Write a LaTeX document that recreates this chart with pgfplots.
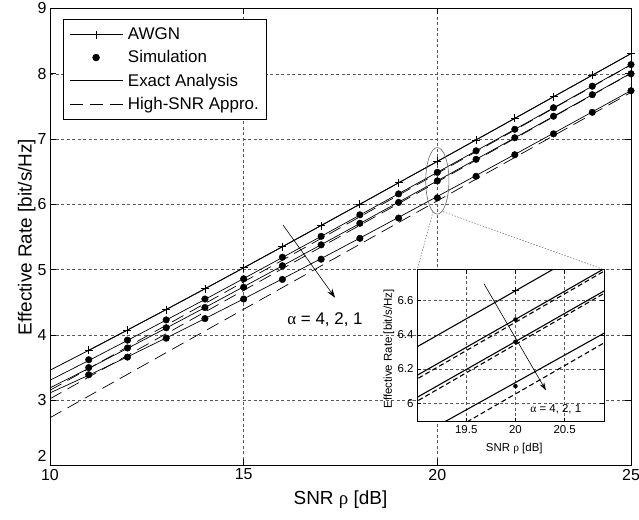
\documentclass[border=0pt]{standalone}
\usepackage{fontspec}
\setmainfont{Liberation Sans}
\newfontfamily\grk{Liberation Serif}
\usepackage{pgfplots}
\pgfplotsset{compat=1.18}
\usepackage{pgfplotstable}
\usetikzlibrary{arrows.meta}

% effective rate vs SNR; e = exact analysis, s = simulation, for alpha = 4, 2, 1
\pgfplotstableread{
x  awgn  e4    e2    e1    s4   s2   s1
10 3.459 3.306 3.189 3.112 nan  nan  nan
11 3.764 3.608 3.488 3.383 3.62 3.50 3.39
12 4.075 3.916 3.794 3.664 3.92 3.80 3.66
13 4.389 4.228 4.105 3.954 4.23 4.11 3.95
14 4.707 4.544 4.419 4.250 4.55 4.42 4.25
15 5.028 4.864 4.738 4.552 4.86 4.73 4.55
16 5.351 5.186 5.059 4.859 5.19 5.06 4.85
17 5.676 5.510 5.382 5.169 5.51 5.38 5.16
18 6.002 5.836 5.707 5.483 5.84 5.71 5.48
19 6.330 6.163 6.034 5.801 6.16 6.03 5.79
20 6.658 6.491 6.361 6.121 6.49 6.36 6.10
21 6.987 6.820 6.690 6.442 6.82 6.69 6.43
22 7.317 7.149 7.019 6.765 7.15 7.02 6.76
23 7.648 7.479 7.349 7.090 7.48 7.35 7.08
24 7.978 7.810 7.679 7.416 7.81 7.68 7.41
25 8.309 8.140 8.010 7.743 8.14 8.00 7.74
}\rates

\pgfplotsset{
  gridd/.style={grid=major, major grid style={black!65, line width=0.5bp, dash pattern=on 3bp off 2.5bp}},
  hsnr/.style={black, line width=0.7bp, dash pattern=on 13bp off 7bp},
}

\begin{document}
\begin{tikzpicture}
\begin{axis}[
  at={(50bp,54.5bp)}, anchor=south west,
  width=581bp, height=457bp, scale only axis,
  xmin=10, xmax=25, ymin=2, ymax=9,
  xtick={10,15,20,25}, ytick={2,...,9},
  yticklabels={\raisebox{4bp}[0pt][0pt]{2},3,4,5,6,7,8,9},
  gridd,
  axis line style={line width=0.8bp},
  every tick/.style={black, line width=0.6bp},
  major tick length=6bp,
  tick label style={font=\fontsize{16}{19}\selectfont},
  /pgf/number format/assume math mode=true,
  xlabel={SNR {\grk ρ} [dB]},
  ylabel={Effective Rate [bit/s/Hz]},
  label style={font=\fontsize{19}{22}\selectfont},
  xlabel style={at={(axis description cs:0.5,-0.0755)}, anchor=center},
  ylabel style={at={(axis description cs:-0.04,0.5)}, anchor=center},
  legend style={at={(0.022,0.976)}, anchor=north west, draw=black,
    line width=0.8bp, font=\fontsize{17}{20}\selectfont, row sep=5.5bp,
    inner xsep=6bp, inner ysep=6bp,
    /tikz/every odd column/.append style={column sep=3bp}},
  legend cell align=left,
  legend image code/.code={\draw[mark repeat=2,mark phase=2,#1]
    plot coordinates {(0bp,0bp) (26.5bp,0bp) (53bp,0bp)};},
]
\addplot[black, line width=0.8bp, mark=+, mark size=4bp,
  mark options={line width=0.8bp}, restrict x to domain=11:25]
  table[x=x,y=awgn]{\rates};
\addlegendentry{AWGN}
\addplot[only marks, mark=*, mark size=3.3bp, black] table[x=x,y=s4]{\rates};
\addlegendentry{Simulation}
\addplot[black, line width=0.7bp] table[x=x,y=e4]{\rates};
\addlegendentry{Exact Analysis}
\addplot[hsnr] coordinates {(10,3.152) (25,8.135)};
\addlegendentry{High-SNR Appro.}

\addplot[forget plot, black, line width=0.8bp] table[x=x,y=awgn]{\rates};
\addplot[forget plot, only marks, mark=*, mark size=3.3bp, black] table[x=x,y=s2]{\rates};
\addplot[forget plot, only marks, mark=*, mark size=3.3bp, black] table[x=x,y=s1]{\rates};
\addplot[forget plot, black, line width=0.7bp] table[x=x,y=e2]{\rates};
\addplot[forget plot, black, line width=0.7bp] table[x=x,y=e1]{\rates};
\addplot[forget plot, hsnr] coordinates {(10,3.022) (25,8.005)};
\addplot[forget plot, hsnr] coordinates {(10,2.732) (25,7.715)};

\draw[black!60, line width=0.6bp] (axis cs:20,6.36) ellipse [x radius=11.6bp, y radius=33.3bp];
\draw[black!60, line width=0.5bp, dash pattern=on 1.5bp off 1.5bp]
  (axis cs:19.89,5.887) -- (axis cs:19.48,5.0)
  (axis cs:20.15,5.887) -- (axis cs:24.30,5.0);
\draw[-{Stealth[length=9bp,width=6bp]}, line width=0.6bp]
  (axis cs:16.02,5.68) -- (axis cs:17.36,4.57);
\node[font=\fontsize{17}{20}\selectfont] at (axis cs:17.1,4.23) {{\grk α} = 4, 2, 1};
\end{axis}

% zoomed inset around 20 dB
\begin{axis}[
  at={(417bp,98bp)}, anchor=south west,
  width=187bp, height=152bp, scale only axis,
  xmin=19, xmax=20.9, ymin=5.89, ymax=6.78,
  xtick={19.5,20,20.5}, ytick={6,6.2,6.4,6.6},
  axis background/.style={fill=white},
  gridd,
  axis line style={line width=1bp},
  every tick/.style={black, line width=0.6bp},
  major tick length=4bp,
  tick label style={font=\fontsize{11.5}{13}\selectfont},
  /pgf/number format/assume math mode=true,
  xlabel={SNR {\grk ρ} [dB]},
  ylabel={Effective Rate [bit/s/Hz]},
  label style={font=\fontsize{11.5}{13}\selectfont},
  xlabel style={at={(axis description cs:0.52,-0.178)}, anchor=center},
  ylabel style={at={(axis description cs:-0.15,0.48)}, anchor=center},
]
\addplot[black, line width=1.1bp] table[x=x,y=awgn]{\rates};
\addplot[black, line width=1.1bp] table[x=x,y=e4]{\rates};
\addplot[black, line width=1.1bp] table[x=x,y=e2]{\rates};
\addplot[black, line width=1.1bp] table[x=x,y=e1]{\rates};
\addplot[black, line width=1.1bp, dash pattern=on 5bp off 3bp] coordinates {(10,3.152) (25,8.135)};
\addplot[black, line width=1.1bp, dash pattern=on 5bp off 3bp] coordinates {(10,3.022) (25,8.005)};
\addplot[black, line width=1.1bp, dash pattern=on 5bp off 3bp] coordinates {(10,2.732) (25,7.715)};
\addplot[only marks, mark=+, mark size=3.5bp, mark options={line width=1bp}, black] coordinates {(20,6.658)};
\addplot[only marks, mark=*, mark size=2bp, black] coordinates {(20,6.49) (20,6.36) (20,6.10)};
\draw[-{Stealth[length=8bp,width=5bp]}, line width=0.6bp]
  (axis cs:19.68,6.70) -- (axis cs:20.31,6.075);
\node[font=\fontsize{11.5}{13}\selectfont] at (axis cs:20.41,5.965) {{\grk α} = 4, 2, 1};
\end{axis}
\pgfresetboundingbox
\path[use as bounding box] (0,0) rectangle (639bp,520bp);
\end{tikzpicture}
\end{document}
